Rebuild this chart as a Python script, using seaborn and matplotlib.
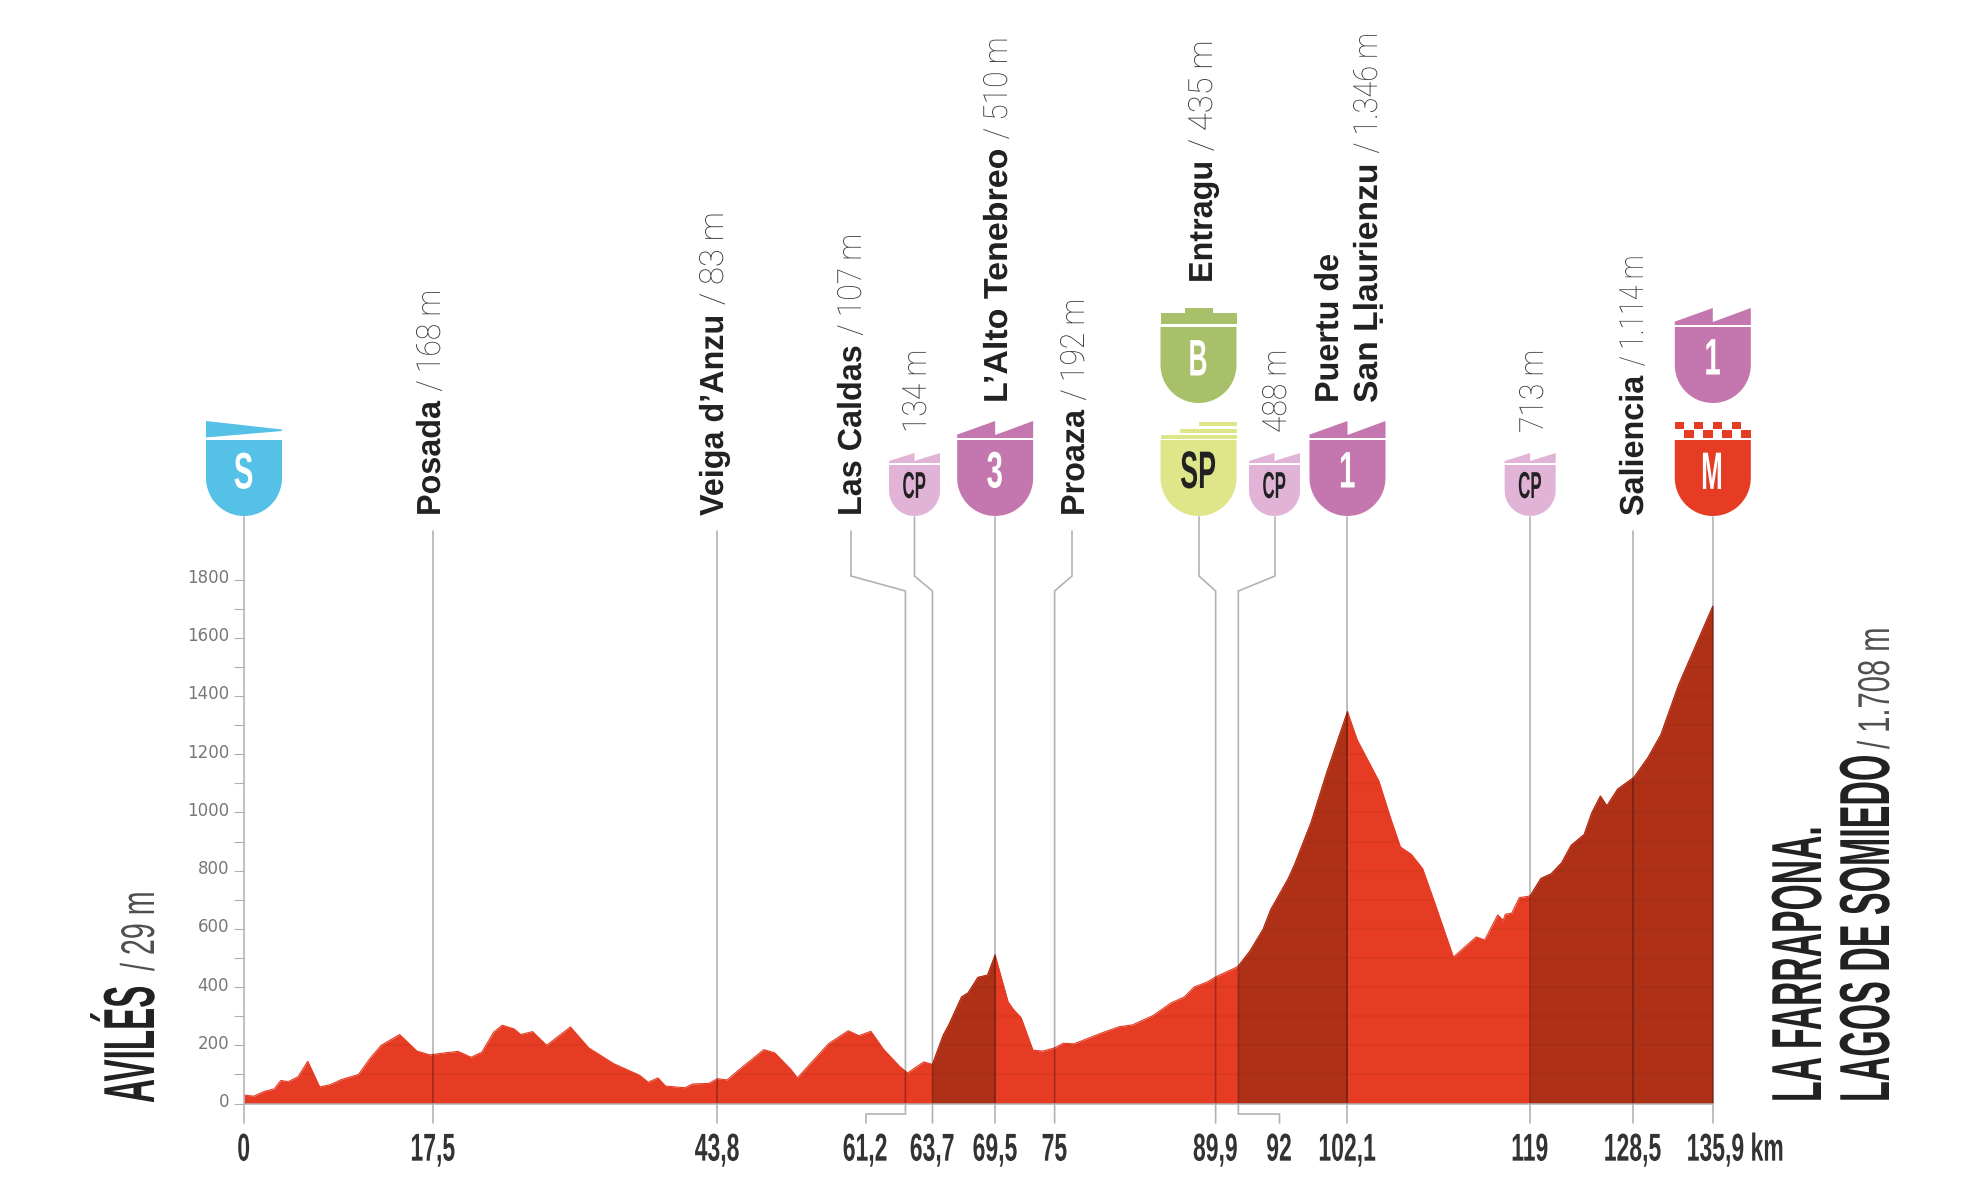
import numpy as np
import pandas as pd
import seaborn as sns
import matplotlib
matplotlib.use("Agg")
import matplotlib.pyplot as plt
from matplotlib import font_manager as fm
from matplotlib.patches import Polygon, Rectangle
from matplotlib.patheffects import AbstractPathEffect
from matplotlib.ticker import FixedLocator
from matplotlib.transforms import Affine2D, Bbox, ScaledTranslation

# ---------- data ----------
km = [0,0.9,1.9,2.8,3.4,4.1,5.0,5.9,7.0,8.0,9.0,10.6,11.7,12.7,14.4,16.0,17.2,18.6,19.8,21.0,22.0,23.1,23.9,25.0,25.6,26.7,28.0,30.2,31.9,34.2,36.6,37.4,38.3,39.0,40.8,41.5,43.0,43.8,44.7,46.0,48.1,49.1,50.6,51.2,54.1,55.9,56.9,58.0,59.2,60.7,61.4,62.9,63.7,64.7,65.2,66.4,67.0,67.9,68.8,69.5,70.1,70.7,71.2,71.9,73.0,73.9,75.0,75.8,76.8,79.4,81.0,82.2,84.1,85.8,87.0,87.9,89.1,89.9,91.7,92.0,93.1,94.3,95.0,96.6,97.2,98.75,100.2,102.1,103.0,105.0,106.1,107.0,108.0,109.05,110.1,111.9,114.0,114.8,116.0,116.5,116.7,117.3,118.0,119.0,120.0,120.95,121.9,122.8,124.0,124.7,125.5,126.1,127.1,128.6,129.9,131.1,132.75,135.9]
elevation = [29,25,42,50,79,75,92,145,57,65,82,100,157,200,237,180,167,174,179,159,176,245,269,256,237,247,200,263,191,137,97,73,88,60,54,67,69,85,81,122,185,174,117,88,206,250,233,248,185,126,105,143,134,235,269,366,380,433,441,510,429,349,323,295,183,180,191,207,205,243,264,270,302,346,366,400,417,435,466,472,525,599,666,771,820,967,1139,1346,1249,1108,979,881,856,807,697,503,572,562,648,629,650,654,707,713,773,789,826,887,924,998,1056,1022,1080,1120,1188,1267,1439,1708]
climb_segments = [(63.7, 69.5), (92.0, 102.1), (119.0, 135.9)]

km_ticks = [0, 17.5, 43.8, 61.2, 63.7, 69.5, 75, 89.9, 92, 102.1, 119, 128.5, 135.9]
km_tick_labels = ["0", "17,5", "43,8", "61,2", "63,7", "69,5", "75", "89,9", "92", "102,1", "119", "128,5", "135,9 km"]
km_label_shift = {"61,2": -40, "92": 41, "135,9 km": 23}

names_main = ["Posada", "Veiga d’Anzu", "Las Caldas", "L’Alto Tenebreo", "Proaza", "Entragu", "San Ḷḷaurienzu", "Saliencia"]
heights_main = ["/ 168 m", "/ 83 m", "/ 107 m", "/ 510 m", "/ 192 m", "/ 435 m", "/ 1.346 m", "/ 1.114 m"]
baselines_main = [440, 723, 861, 1007, 1084, 1212, 1377, 1643]
starts_main = [516, 516, 516, 403, 516, 283, 403, 516]
name_squeeze = {"L’Alto Tenebreo": 1.02, "San Ḷḷaurienzu": 1.01}
height_squeeze = {"/ 1.114 m": 0.8, "/ 1.346 m": 0.87, "/ 435 m": 0.98, "/ 83 m": 0.98}

cp_heights = ["134 m", "488 m", "713 m"]
cp_baselines = [926, 1286, 1543]

straight_km = [17.5, 43.8, 69.5, 102.1, 119, 128.5, 135.9]
straight_top = [531, 531, 517, 517, 517, 531, 517]

RED, DARK = "#E63C24", "#AD3017"
PURPLE, PINK = "#C476AE", "#E1B4D7"
BLUE, GREEN, LIME = "#55C1E6", "#A9C06B", "#DFE68A"
INK, GREY = "#222222", "#333333"

# ---------- fonts ----------
sns.set_theme(style="white")
installed = {f.name for f in fm.fontManager.ttflist}
NARROW = "Liberation Sans Narrow" if "Liberation Sans Narrow" in installed else "Liberation Sans"
NK = 1.0 if NARROW == "Liberation Sans Narrow" else 0.82


class Squeeze(AbstractPathEffect):
    """Condenses real text along its reading direction, as the display face does."""
    def __init__(self, k, vertical):
        super().__init__()
        self.k, self.vertical = k, vertical

    def draw_path(self, renderer, gc, tpath, affine, rgbFace=None):
        v = affine.transform(tpath.vertices)
        if self.vertical:
            y0 = v[:, 1].min()
            a = affine + Affine2D().translate(0, -y0).scale(1, self.k).translate(0, y0)
        else:
            x0 = (v[:, 0].min() + v[:, 0].max()) / 2
            a = affine + Affine2D().translate(-x0, 0).scale(self.k, 1).translate(x0, 0)
        renderer.draw_path(gc, tpath, a, rgbFace)


def squeeze(t, k, vertical):
    """Apply the effect and let the text report the box it really occupies."""
    t.set_path_effects([Squeeze(k, vertical)])
    natural = t.get_window_extent

    def extent(renderer=None, dpi=None):
        b = natural(renderer, dpi)
        if vertical:
            return Bbox.from_extents(b.x0, b.y0, b.x1, b.y0 + b.height * k)
        c = (b.x0 + b.x1) / 2
        return Bbox.from_extents(c - b.width * k / 2, b.y0, c + b.width * k / 2, b.y1)

    t.get_window_extent = extent
    return t


# ---------- axes: whole canvas, scales from the reference's grid ----------
W, H = 1980, 1200
PX_KM, PX_M, X0, Y0 = 10.808, 0.2911, 244.0, 1103.5
fig = plt.figure(figsize=(W / 100, H / 100), dpi=100, facecolor="white")
ax = fig.add_axes([0, 0, 1, 1])
ax.set_xlim(-X0 / PX_KM, (W - X0) / PX_KM)
ax.set_ylim((Y0 - H) / PX_M, Y0 / PX_M)
ax.patch.set_alpha(0)
px = Affine2D().scale(1, -1).translate(0, H)  # canvas pixels, y downwards
to_m = lambda py: (Y0 - py) / PX_M

df = pd.DataFrame({"km": km, "m": elevation})
base = ax.fill_between(df.km, 0, df.m, color=RED, lw=0, zorder=2)
sns.lineplot(data=df, x="km", y="m", color=RED, lw=0.8, ax=ax, zorder=2, estimator=None)
for a, b in climb_segments:
    seg = df[(df.km >= a) & (df.km <= b)]
    ax.fill_between(seg.km, 0, seg.m, color=DARK, lw=0, zorder=3)
    sns.lineplot(data=seg, x="km", y="m", color=DARK, lw=0.8, ax=ax, zorder=3, estimator=None)
bands = ax.hlines(np.arange(100, 1800, 100), 0, 135.9, color="#5a1000", alpha=0.06, lw=1.6, zorder=4)
bands.set_clip_path(base.get_paths()[0], ax.transData)

# axes furniture
for s in ("top", "right"):
    ax.spines[s].set_visible(False)
ax.spines["left"].set_position(("data", 0))
ax.spines["bottom"].set_position(("data", 0))
ax.spines["left"].set_bounds(to_m(1123), to_m(517))
ax.spines["bottom"].set_bounds(0, 135.9)
for s in ("left", "bottom"):
    ax.spines[s].set_color("#b0b0b0")
    ax.spines[s].set_linewidth(1.1)
    ax.spines[s].set_zorder(6)
ax.set_yticks(np.arange(0, 1801, 200))
ax.yaxis.set_minor_locator(FixedLocator(np.arange(100, 1800, 200)))
ax.tick_params(axis="y", which="both", direction="out", left=True, length=7.2, width=0.8, color="#b0b0b0")
ax.tick_params(axis="y", which="major", labelsize=12, labelcolor="#777777", pad=3.5)
for lab in ax.get_yticklabels():
    lab.set_family("DejaVu Sans")
    lab.set_transform(lab.get_transform() + ScaledTranslation(0, 3.5 / 100, fig.dpi_scale_trans))
ax.set_xticks(km_ticks)
ax.set_xticklabels(km_tick_labels)
ax.tick_params(axis="x", bottom=False, length=0, labelsize=28, labelcolor="#333333", pad=21)
ax.set_xlabel("")
ax.set_ylabel("")
for lab in ax.get_xticklabels():
    lab.set_family(NARROW)
    lab.set_weight("bold")
    squeeze(lab, 0.72 * NK, False)
    shift = km_label_shift.get(lab.get_text(), 0)
    if shift:
        lab.set_transform(lab.get_transform() + ScaledTranslation(shift / 100, 0, fig.dpi_scale_trans))

# vertical leader lines
LINE = dict(color="black", alpha=0.3, lw=1.2, zorder=5, solid_joinstyle="miter", clip_on=False)
xpx = lambda k: X0 + k * PX_KM
for k, top in zip(straight_km, straight_top):
    ax.plot([xpx(k), xpx(k)], [top, 1123], transform=px, **LINE)
for xt, top, k in [(914.5, 517, 63.7), (1072, 531, 75), (1199, 517, 89.9)]:
    ax.plot([xt, xt, xpx(k), xpx(k)], [top, 576, 591, 1123], transform=px, **LINE)
ax.plot([851, 851, xpx(61.2), xpx(61.2), 866, 866], [531, 576, 591, 1114, 1114, 1123], transform=px, **LINE)
ax.plot([1275, 1275, xpx(92), xpx(92), 1279.5, 1279.5], [517, 576, 591, 1114, 1114, 1123], transform=px, **LINE)


# ---------- rotated labels ----------
def rot(x, y, s, size, family, weight, color, k):
    t = ax.text(x, y, s, transform=px, rotation=90, rotation_mode="anchor", ha="left", va="baseline",
                fontsize=size, family=family, weight=weight, color=color, clip_on=False, zorder=8)
    return squeeze(t, k, True)


fig.canvas.draw()
r = fig.canvas.get_renderer()
BOLD, LIGHT = ["Liberation Sans", "DejaVu Sans"], ["Roboto", "DejaVu Sans"]
for n, h, bx, st in zip(names_main, heights_main, baselines_main, starts_main):
    t = rot(bx, st, n, 24, BOLD, "bold", INK, name_squeeze.get(n, 0.97))
    L = t.get_window_extent(r).height
    rot(bx, st - L - 9, h, 24, LIGHT, "light", GREY, height_squeeze.get(h, 0.9))
rot(1338, 403, "Puertu de", 24, BOLD, "bold", INK, 0.97)
for h, bx in zip(cp_heights, cp_baselines):
    rot(bx, 433, h, 24, LIGHT, "light", GREY, 0.9)

# stage towns
rot(154, 1103, "AVILÉS", 52, NARROW, "bold", INK, 0.56 * NK)
rot(154, 971, "/ 29 m", 34, NARROW, "normal", "#505050", 0.74 * NK)
rot(1821, 1102, "LA FARRAPONA.", 51, NARROW, "bold", INK, 0.58 * NK)
rot(1889, 1102, "LAGOS DE SOMIEDO", 51, NARROW, "bold", INK, 0.585 * NK)
rot(1889, 749, "/ 1.708 m", 32, NARROW, "normal", "#505050", 0.8 * NK)


# ---------- profile badges ----------
def body(cx, w, top, bot, color):
    th = np.linspace(np.pi, 2 * np.pi, 40)
    r_ = w / 2
    pts = [(cx - r_, top)] + [(cx + r_ * np.cos(a), bot - r_ - r_ * np.sin(a)) for a in th] + [(cx + r_, top)]
    ax.add_patch(Polygon(pts, closed=True, fc=color, ec="none", transform=px, zorder=7, clip_on=False))


def poly(pts, color):
    ax.add_patch(Polygon(pts, closed=True, fc=color, ec="none", transform=px, zorder=7, clip_on=False))


def rect(x, y, w, h, color):
    ax.add_patch(Rectangle((x, y), w, h, fc=color, ec="none", transform=px, zorder=7, clip_on=False))


def letter(cx, cy, s, size, color, k):
    t = ax.text(cx, cy, s, transform=px, ha="center", va="center", fontsize=size, family=NARROW,
                weight="bold", color=color, zorder=9, clip_on=False)
    squeeze(t, k * NK, False)


def teeth(cx, w, base, peak, dip, color):
    l, r_ = cx - w / 2, cx + w / 2
    poly([(l, base), (l, base - (base - peak) * 0.2), (cx, peak), (cx, dip), (r_, peak), (r_, base)], color)


def climb(cx, bot, s, color):
    body(cx, 76, bot - 76, bot, color)
    teeth(cx, 76, bot - 78, bot - 95, bot - 81, color)
    letter(cx, bot - 42, s, 37, "white", 0.7)


def cp(cx):
    body(cx, 51, 465, 516, PINK)
    teeth(cx, 51, 463, 453, 461, PINK)
    letter(cx, 488, "CP", 27, INK, 0.55)


# start
body(X0, 76, 440, 516, BLUE)
poly([(X0 - 38, 421), (X0 + 38, 429.5), (X0 + 38, 431), (X0 - 38, 437.5)], BLUE)
letter(X0, 475, "S", 37, "white", 0.7)
cp(914.5)
climb(xpx(69.5), 516, "3", PURPLE)
# sprint + bonus
cx = 1198.5
body(cx, 76, 440, 516, LIME)
for yy, left in [(422, 0.5), (428.5, 0.25), (434.5, 0.0)]:
    rect(cx - 38 + 76 * left, yy, 76 * (1 - left), 4.3, LIME)
letter(cx, 474, "SP", 38, INK, 0.62)
body(cx, 76, 327, 403, GREEN)
rect(cx - 38, 313, 76, 11, GREEN)
rect(cx - 14, 308, 28, 6, GREEN)
letter(cx, 362, "B", 37, "white", 0.62)
cp(1274.5)
climb(xpx(102.1), 516, "1", PURPLE)
cp(xpx(119))
# finish
fx = xpx(135.9)
climb(fx, 403, "1", PURPLE)
body(fx, 76, 440, 516, RED)
for row, yy in enumerate((421.7, 430)):
    for c in range(row, 8, 2):
        rect(fx - 38 + c * 9.5, yy, 9.5, 7.5, RED)
letter(fx, 475, "M", 38, "white", 0.6)

fig.savefig("out.png", dpi=100, facecolor="white")
